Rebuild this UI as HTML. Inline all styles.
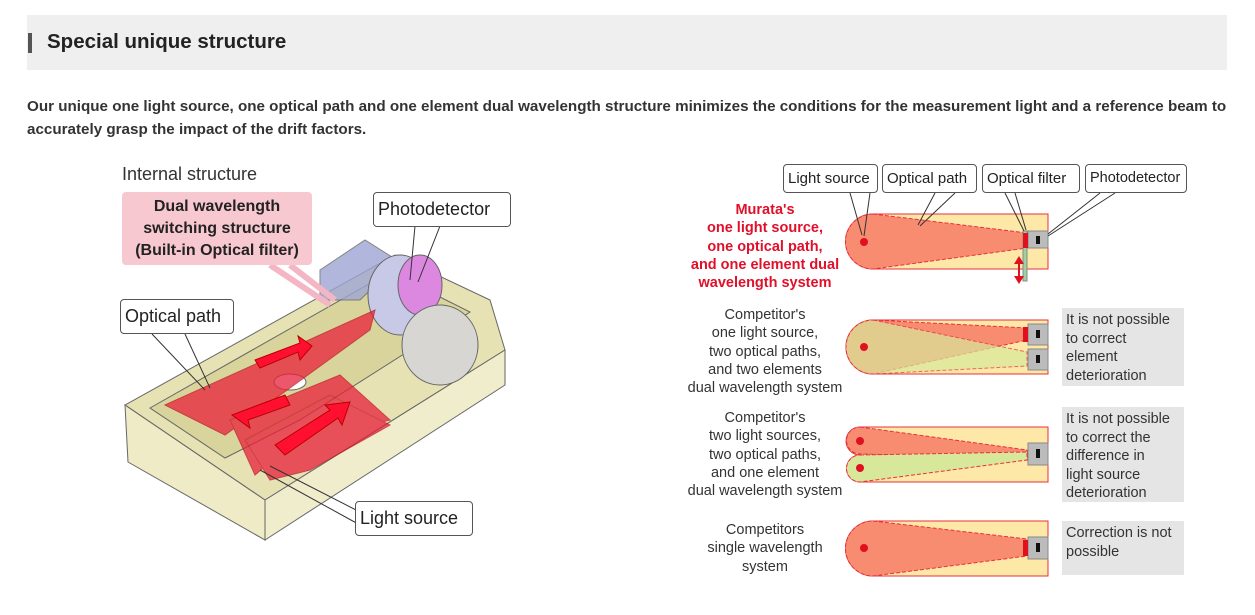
<!DOCTYPE html>
<html><head><meta charset="utf-8"><style>
body{margin:0;width:1255px;height:615px;background:#fff;position:relative;font-family:"Liberation Sans",sans-serif;overflow:hidden;color:#222}
.a{position:absolute}
.hdr{left:27px;top:15px;width:1200px;height:55px;background:#efefef}
.bar{left:28px;top:33px;width:4px;height:20px;background:#555}
.t{left:47px;top:30px;font-size:20.5px;font-weight:bold;color:#222}
.p{left:27px;top:95px;width:1215px;font-size:15.2px;font-weight:bold;line-height:23px;color:#333}
.lbl{position:absolute;border:1px solid #555;border-radius:4px;background:#fff;font-size:15px;padding:0 4px;box-sizing:border-box;height:29px;line-height:27px;white-space:nowrap}
.big{font-size:18px;height:35px;line-height:33px}
.cap{position:absolute;text-align:center;font-size:14.5px;line-height:18.3px;color:#333}
.note{position:absolute;background:#e5e5e5;font-size:14.5px;line-height:18.5px;padding:3px 4px 3px 4px;box-sizing:border-box;color:#333;left:1062px;width:122px}
</style></head><body>
<div class="a hdr"></div><div class="a bar"></div>
<div class="a t">Special unique structure</div>
<div class="a p">Our unique one light source, one optical path and one element dual wavelength structure minimizes the conditions for the measurement light and a reference beam to accurately grasp the impact of the drift factors.</div>

<svg class="a" style="left:0;top:0" width="1255" height="615">
<!-- left illustration -->
<g stroke="#666" stroke-width="1">
<polygon points="125,405 395,255 490,300 505,350 265,500" fill="#e6e2b4"/>
<polygon points="125,405 265,500 265,540 128,462" fill="#eeebc6"/>
<polygon points="265,500 505,350 505,385 265,540" fill="#f0edcc"/>
<polygon points="150,408 390,272 470,312 300,420 225,458" fill="#d8d49c"/>
<polygon points="320,270 365,240 400,262 360,300 320,300" fill="#9ea6d4" opacity=".8"/>
<ellipse cx="400" cy="295" rx="32" ry="40" fill="#c7c9e6"/>
<ellipse cx="420" cy="285" rx="22" ry="30" fill="#dd88e0"/>
<ellipse cx="440" cy="345" rx="38" ry="40" fill="#d8d6d2"/>
<ellipse cx="290" cy="382" rx="16" ry="8" fill="#fff"/>
</g>
<g fill="#e8203a" opacity=".75" stroke="#c01020">
<polygon points="165,405 375,310 370,330 225,435"/>
<polygon points="230,420 340,375 390,420 290,445 255,475"/>
<polygon points="245,440 330,395 390,425 310,470 270,480"/>
</g>
<g fill="#ff1030" stroke="#b00"><polygon points="255,360 300,343 298,336 312,346 300,360 298,352 260,368"/><polygon points="240,412 285,395 290,405 248,420 250,428 232,415"/><polygon points="275,445 330,410 325,405 350,402 342,425 338,418 285,455"/></g>
<g stroke="#333" fill="none" stroke-width="1">
<path d="M415,226 L410,280 M440,226 L418,282"/>
<path d="M152,334 L205,390 M185,334 L210,388"/>
<path d="M360,512 L270,466 M360,525 L260,470"/>
<path d="M270,265 L330,305 M290,265 L335,300" stroke="#f4b6c4" stroke-width="6"/>
</g>
<!-- right diagrams -->
<g stroke="#e8303c" stroke-width="1">
<path d="M873,214 H1048 V269 H873 A27.5,27.5 0 0 1 873,214Z" fill="#fde8a8"/>
<path d="M873,214 L1027,233 V248 L873,269 A27.5,27.5 0 0 1 873,214Z" fill="#f88c70" stroke-dasharray="4 2"/>
<rect x="1028" y="231" width="20" height="17" fill="#bbb" stroke="#888"/>
<rect x="1023" y="231" width="4" height="50" fill="#9fd0a0" stroke="#888"/>
<path d="M873,320 H1048 V374 H873 A27,27 0 0 1 873,320Z" fill="#fde8a8"/>
<path d="M873,320 L1027,328 V340 L873,374 A27,27 0 0 1 873,320Z" fill="#f88c70" stroke-dasharray="4 2"/>
<path d="M873,320 L1027,352 V366 L873,374 A27,27 0 0 1 873,320Z" fill="#d8e89a" opacity=".7" stroke-dasharray="4 2"/>
<rect x="1028" y="324" width="20" height="21" fill="#bbb" stroke="#888"/>
<rect x="1028" y="349" width="20" height="21" fill="#bbb" stroke="#888"/>
<path d="M860,427 H1048 V482 H860 A13.5,13.5 0 0 1 860,455 A13.5,13.5 0 0 1 860,427Z" fill="#fde8a8"/>
<path d="M860,427 L1027,450 V458 L860,454 A13.5,13.5 0 0 1 860,427Z" fill="#f88c70" stroke-dasharray="4 2"/>
<path d="M860,455 L1027,452 V460 L860,482 A13.5,13.5 0 0 1 860,455Z" fill="#d8e89a" stroke-dasharray="4 2"/>
<rect x="1028" y="443" width="20" height="22" fill="#bbb" stroke="#888"/>
<path d="M873,521 H1048 V576 H873 A27.5,27.5 0 0 1 873,521Z" fill="#fde8a8"/>
<path d="M873,521 L1027,539 V556 L873,576 A27.5,27.5 0 0 1 873,521Z" fill="#f88c70" stroke-dasharray="4 2"/>
<rect x="1028" y="537" width="20" height="22" fill="#bbb" stroke="#888"/>
</g>
<g fill="#e0101e"><circle cx="864" cy="242" r="4"/><circle cx="864" cy="347" r="4"/><circle cx="860" cy="441" r="4"/><circle cx="860" cy="468" r="4"/><circle cx="864" cy="548" r="4"/>
<rect x="1023" y="233" width="5" height="15"/><rect x="1023" y="327" width="5" height="15"/><rect x="1023" y="540" width="5" height="16"/>
<path d="M1019,256 l-5,8 h4 v12 h-4 l5,8 l5,-8 h-4 v-12 h4z"/></g>
<g fill="#111"><rect x="1036" y="236" width="4" height="8"/><rect x="1036" y="330" width="4" height="8"/><rect x="1036" y="355" width="4" height="8"/><rect x="1036" y="449" width="4" height="9"/><rect x="1036" y="543" width="4" height="9"/></g>
<g stroke="#333" fill="none"><path d="M850,193 L862,235 M870,193 L864,236"/><path d="M935,193 L918,225 M955,193 L920,226"/><path d="M1005,193 L1024,231 M1015,193 L1026,230"/><path d="M1100,193 L1048,234 M1115,193 L1048,236"/></g>
</svg>

<div class="a" style="left:122px;top:164px;font-size:18px;color:#333">Internal structure</div>
<div class="a" style="left:122px;top:192px;width:190px;height:73px;background:#f8c8d0;border-radius:4px;text-align:center;font-weight:bold;font-size:16px;line-height:22px;padding-top:4px;box-sizing:border-box">Dual wavelength<br>switching structure<br>(Built-in Optical filter)</div>
<div class="lbl big" style="left:373px;top:192px;width:138px">Photodetector</div>
<div class="lbl big" style="left:120px;top:299px;width:114px">Optical path</div>
<div class="lbl big" style="left:355px;top:501px;width:118px">Light source</div>

<div class="lbl" style="left:783px;top:164px;width:95px">Light source</div>
<div class="lbl" style="left:882px;top:164px;width:95px">Optical path</div>
<div class="lbl" style="left:982px;top:164px;width:98px">Optical filter</div>
<div class="lbl" style="left:1085px;top:164px;width:102px;font-size:14.5px">Photodetector</div>

<div class="cap" style="left:680px;top:201px;width:170px;color:#e0102a;font-weight:bold">Murata's<br>one light source,<br>one optical path,<br>and one element dual<br>wavelength system</div>
<div class="cap" style="left:680px;top:306px;width:170px">Competitor's<br>one light source,<br>two optical paths,<br>and two elements<br>dual wavelength system</div>
<div class="cap" style="left:680px;top:409px;width:170px">Competitor's<br>two light sources,<br>two optical paths,<br>and one element<br>dual wavelength system</div>
<div class="cap" style="left:680px;top:521px;width:170px">Competitors<br>single wavelength<br>system</div>

<div class="note" style="top:308px;height:78px">It is not possible<br>to correct<br>element<br>deterioration</div>
<div class="note" style="top:407px;height:95px">It is not possible<br>to correct the<br>difference in<br>light source<br>deterioration</div>
<div class="note" style="top:521px;height:54px">Correction is not possible</div>
</body></html>
